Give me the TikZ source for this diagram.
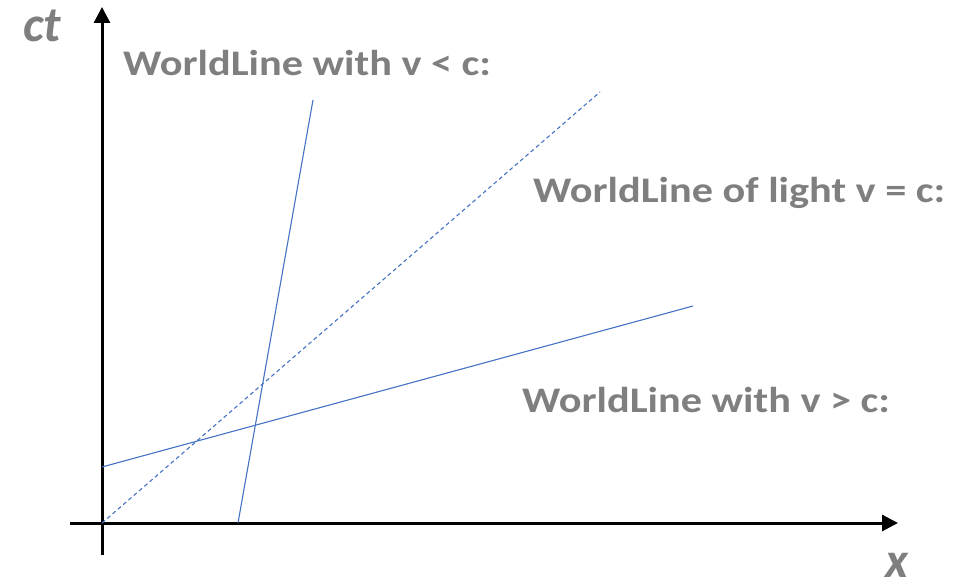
\documentclass[tikz,border=0pt]{standalone}
\usepackage{fontspec}
\setmainfont{Carlito}
\usetikzlibrary{arrows.meta}
\definecolor{lblgray}{HTML}{7F7F7F}
\definecolor{wlblue}{HTML}{4472C4}
\tikzset{
  axis/.style={line width=3pt, -{Triangle[length=16pt,width=16pt]}},
  wline/.style={wlblue, line width=1.1pt},
  lightline/.style={wlblue, line width=1.1pt, dash pattern=on 4pt off 3pt},
  lbl/.style={lblgray, font=\fontsize{36}{40}\selectfont\bfseries, anchor=base west, inner sep=0pt, xscale=1.175},
  axlbl/.style={lblgray, font=\fontsize{50}{56}\selectfont\bfseries\itshape, anchor=base west, inner sep=0pt}
}
\begin{document}
\begin{tikzpicture}[x=1pt,y=-1pt]
\useasboundingbox (0,0) rectangle (975,585);
\coordinate (xs) at (70,523);
\coordinate (xe) at (898,523);
\coordinate (ys) at (102,555);
\coordinate (ye) at (102,7);
\coordinate (o) at (102,523);
\coordinate (a1) at (238,523);
\coordinate (a2) at (313,100);
\coordinate (l2) at (600,92);
\coordinate (b1) at (102,467);
\coordinate (b2) at (693,306);
\draw[axis] (xs) -- (xe);
\draw[axis] (ys) -- (ye);
\draw[wline] (a1) -- (a2);
\draw[lightline] (o) -- (l2);
\draw[wline] (b1) -- (b2);
\node[axlbl] (ct) at (23,42) {ct};
\node[axlbl] (xl) at (885,577) {x};
\node[lbl] (t1) at (123,76) {WorldLine with v < c:};
\node[lbl] (t2) at (533,203) {WorldLine of light v = c:};
\node[lbl] (t3) at (522,413) {WorldLine with v > c:};
\end{tikzpicture}
\end{document}
